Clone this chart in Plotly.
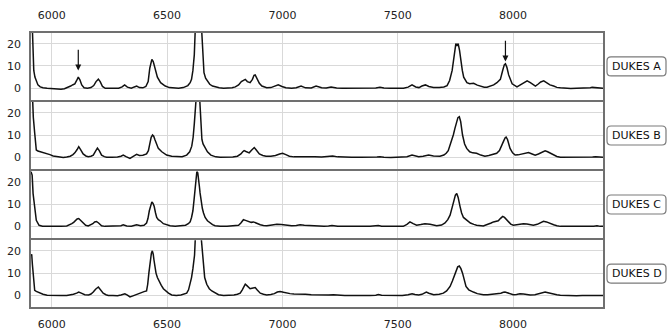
import plotly.graph_objects as go
from plotly.subplots import make_subplots

SAMPLES = ["DUKES A", "DUKES B", "DUKES C", "DUKES D"]

WN_A = [
    5910, 5914, 5918, 5922, 5927, 5933, 5940, 5950, 5962, 5980,
    6000, 6020, 6040, 6055, 6070, 6082, 6092, 6100, 6108, 6115,
    6122, 6130, 6140, 6155, 6170, 6182, 6192, 6202, 6210, 6220,
    6232, 6250, 6270, 6290, 6305, 6316, 6328, 6345, 6358, 6368,
    6380, 6395, 6408, 6418, 6425, 6430, 6434, 6440, 6447, 6458,
    6472, 6492, 6510, 6530, 6550, 6570, 6590, 6600, 6606, 6612,
    6618, 6622, 6630, 6636, 6642, 6650, 6655, 6660, 6667, 6675,
    6685, 6697, 6712, 6726, 6745, 6765, 6782, 6796, 6810, 6822,
    6832, 6839, 6848, 6860, 6870, 6877, 6882, 6890, 6900, 6911,
    6932, 6950, 6965, 6982, 6998, 7015, 7040, 7060, 7081, 7100,
    7125, 7146, 7170, 7190, 7211, 7235, 7260, 7290, 7320, 7350,
    7380, 7405, 7423, 7440, 7470, 7500, 7525, 7545, 7562, 7578,
    7592, 7605, 7620, 7635, 7655, 7680, 7700, 7714, 7725, 7736,
    7742, 7747, 7752, 7757, 7762, 7768, 7774, 7780, 7786, 7800,
    7812, 7829, 7845, 7861, 7875, 7887, 7902, 7916, 7930, 7945,
    7955, 7962, 7967, 7973, 7981, 7996, 8017, 8032, 8046, 8061,
    8075, 8087, 8097, 8108, 8120, 8133, 8145, 8160, 8176, 8190,
    8205, 8225, 8250, 8275, 8300, 8320, 8335, 8343, 8352, 8370,
    8390]
INT_A = [
    45, 30, 14, 8, 5, 3, 1.5, 0.6, 0.2, 0,
    -0.2, -0.3, -0.4, -0.2, 0.3, 1.0, 1.6, 2.0, 3.5, 5.0,
    3.8, 1.5, 0.2, 0, 0.3, 1.2, 3.0, 4.1, 3.0, 0.8,
    0, -0.1, 0, 0, 0.6, 1.5, 0.5, 0, 0.6, 1.0,
    0.3, 0.2, 0.8, 3, 9, 12.5, 13, 12, 9.5, 5,
    2.5, 1.0, 0.3, 0, 0, 0.3, 1.2, 2.5, 4, 8,
    15, 26, 45, 50, 45, 26, 13, 7, 4.5, 3,
    1.8, 1, 0.5, 0.2, 0, 0, 0.2, 0.6, 1.5, 3,
    3.8, 4, 3, 2.5, 4, 5.8, 6, 4.5, 2.2, 1,
    0.2, 0.3, 0.8, 1.5, 0.8, 0.2, 0, 0.2, 1.0, 0.2,
    0.1, 1.0, 0.2, 0.1, 0.6, 0.1, 0, 0, 0, -0.1,
    0, 0.1, 0.5, 0.1, 0, -0.1, 0, 0.5, 1.5, 0.6,
    0.3, 1.0, 1.5, 0.8, 0.3, 0.4, 0.6, 1.2, 3.5, 8,
    13, 17, 20, 19, 20, 17, 12, 8, 5, 2.5,
    2, 2.2, 1.4, 0.8, 0.5, 0.5, 1.0, 1.5, 2.5, 4,
    8, 10.5, 11, 9.5, 6, 2, 0.6, 1.5, 2.6, 3.3,
    2.5, 1.5, 1.0, 1.8, 2.8, 3.3, 2.5, 1.5, 1, 0.4,
    0.2, 0, -0.1, 0, 0, 0.1, 0.2, 0.4, 0.3, 0.1,
    0]

WN_B = [
    5910, 5915, 5920, 5926, 5933, 5940, 5948, 5962, 5977, 5992,
    6006, 6020, 6035, 6050, 6065, 6080, 6092, 6100, 6110, 6117,
    6125, 6136, 6148, 6158, 6170, 6180, 6190, 6198, 6206, 6216,
    6228, 6238, 6260, 6285, 6300, 6310, 6322, 6339, 6355, 6368,
    6380, 6395, 6411, 6419, 6425, 6431, 6437, 6442, 6447, 6455,
    6462, 6477, 6498, 6520, 6542, 6565, 6585, 6598, 6607, 6613,
    6618, 6622, 6627, 6634, 6641, 6646, 6651, 6656, 6665, 6675,
    6690, 6711, 6730, 6760, 6785, 6805, 6820, 6828, 6834, 6842,
    6856, 6866, 6873, 6878, 6885, 6900, 6915, 6929, 6950, 6970,
    6988, 7001, 7015, 7030, 7050, 7080, 7110, 7140, 7170, 7200,
    7218, 7240, 7270, 7300, 7340, 7380, 7410, 7423, 7440, 7470,
    7500, 7520, 7540, 7562, 7576, 7591, 7610, 7634, 7655, 7683,
    7700, 7710, 7719, 7728, 7735, 7741, 7748, 7755, 7761, 7767,
    7773, 7781, 7790, 7799, 7812, 7825, 7842, 7860, 7878, 7895,
    7910, 7929, 7941, 7951, 7960, 7966, 7970, 7976, 7987, 7998,
    8009, 8022, 8038, 8052, 8067, 8080, 8096, 8110, 8125, 8139,
    8150, 8162, 8176, 8190, 8205, 8230, 8260, 8290, 8320, 8345,
    8358, 8364, 8375, 8390]
INT_B = [
    45, 30, 18, 10.9, 3.3, 2.8, 2.6, 2.2, 1.8, 1.2,
    0.6, 0.3, 0, -0.1, 0.1, 0.5, 1.2, 2, 3.5, 4.8,
    3.5, 1.5, 0.6, 0.3, 0.5, 1, 2.8, 4.1, 3.0, 1,
    0.3, 0, 0, 0.1, 0.5, 1, 0.3, -0.5, 0.5, 1.3,
    0.8, 0.9, 1.5, 3, 6, 9, 10, 9.5, 8, 5.5,
    4, 2.5, 1, 0.5, 0.3, 0.3, 1, 2.5, 5, 9,
    15, 20, 27, 38, 27, 15, 8, 6, 4, 2.5,
    1, 0.2, 0, 0, 0.1, 0.5, 1.5, 2.5, 3, 2.6,
    2, 3.2, 4.2, 4.4, 3.5, 1.5, 0.8, 0.5, 0.5, 0.8,
    1.5, 1.8, 1.2, 0.5, 0.2, 0.3, 0.2, 0.2, 0.1, 0.3,
    0.6, 0.2, 0, 0, 0, -0.1, 0.1, 0.3, 0, -0.1,
    0, 0.1, 0.3, 1, 0.5, 0.3, 0.5, 1, 0.6, 0.5,
    1, 1.8, 3, 5.5, 8, 10, 13, 16, 17.8, 18.2,
    16, 10, 6, 4, 2.5, 2, 1.8, 1, 0.5, 0.8,
    1.4, 1.8, 3, 5, 7.5, 8.8, 9.1, 8, 4, 2,
    1, 1.1, 1.5, 1.9, 2.1, 1.6, 1, 1.5, 2.4, 2.9,
    2.5, 1.8, 1, 0.4, 0, 0, -0.1, 0, 0, 0.1,
    0.3, 0.3, 0, 0]

WN_C = [
    5910, 5915, 5919, 5926, 5933, 5945, 5960, 5980, 6000, 6020,
    6040, 6065, 6078, 6087, 6095, 6102, 6110, 6117, 6125, 6136,
    6147, 6158, 6170, 6178, 6186, 6194, 6203, 6216, 6230, 6255,
    6280, 6300, 6310, 6325, 6345, 6368, 6385, 6400, 6411, 6417,
    6423, 6429, 6434, 6439, 6444, 6450, 6455, 6462, 6470, 6484,
    6498, 6513, 6535, 6560, 6580, 6592, 6600, 6606, 6612, 6617,
    6622, 6626, 6629, 6633, 6636, 6640, 6643, 6648, 6653, 6658,
    6665, 6675, 6686, 6697, 6708, 6730, 6760, 6790, 6810, 6820,
    6831, 6840, 6853, 6865, 6875, 6888, 6904, 6918, 6932, 6955,
    6976, 6995, 7019, 7040, 7060, 7077, 7095, 7120, 7150, 7180,
    7200, 7215, 7240, 7270, 7300, 7340, 7380, 7405, 7416, 7430,
    7460, 7490, 7524, 7540, 7553, 7567, 7582, 7600, 7618, 7640,
    7669, 7690, 7705, 7717, 7727, 7736, 7744, 7750, 7756, 7762,
    7770, 7777, 7785, 7799, 7815, 7830, 7842, 7871, 7890, 7905,
    7915, 7926, 7936, 7946, 7955, 7963, 7972, 7980, 7990, 8001,
    8020, 8035, 8045, 8060, 8075, 8088, 8105, 8120, 8132, 8145,
    8160, 8176, 8190, 8205, 8235, 8265, 8300, 8330, 8350, 8364,
    8378, 8390]
INT_C = [
    24.5, 23, 14.7, 7.2, 2.7, 0.5, 0.1, 0, -0.1, -0.2,
    0, 0.2, 0.6, 1.2, 1.8, 2.7, 3.3, 3.5, 2.8, 1.5,
    0.5, 0.2, 0.6, 1.2, 2, 2.2, 1.5, 0.3, 0, 0,
    0, 0.3, 0.7, 0.2, 0.1, 0.7, 0.3, 0.5, 1.5, 3.5,
    7, 10, 11, 10.3, 9, 6, 4, 3, 2.5, 1.2,
    0.6, 0.3, 0, 0.1, 0.5, 1.2, 2, 4, 7, 12,
    18, 22.5, 24.5, 24, 22, 18, 15, 11, 8, 6,
    4, 2.5, 1.5, 0.8, 0.3, 0, 0, 0.1, 0.5, 1.5,
    3, 2.7, 2.2, 1.8, 2, 1.3, 0.7, 0.4, 0.3, 0.6,
    0.9, 0.8, 0.5, 0.3, 0.4, 0.7, 0.5, 0.3, 0.2, 0.1,
    0.2, 0.4, 0.1, 0, 0, 0, 0, 0.2, 0.4, 0.1,
    0, 0, 0, 0.9, 2, 1.2, 0.5, 0.8, 1.2, 0.9,
    0.3, 0.6, 1.5, 3, 5, 8.5, 12, 14, 14.8, 13,
    9, 6, 4, 2.7, 1.5, 0.9, 0.5, 0.2, 0.8, 1.5,
    2, 2.2, 2.5, 3.6, 4.5, 4, 3, 2, 1, 0.5,
    0.8, 1.1, 1.2, 1.1, 0.8, 0.5, 0.9, 1.8, 2.3, 2,
    1.3, 0.7, 0.3, 0, 0, -0.1, 0, 0, 0.1, 0.3,
    0, 0]

WN_D = [
    5910, 5913, 5916, 5919, 5923, 5926, 5933, 5940, 5950, 5962,
    5980, 6000, 6020, 6040, 6065, 6080, 6094, 6108, 6117, 6128,
    6143, 6160, 6170, 6180, 6190, 6202, 6212, 6223, 6235, 6245,
    6265, 6285, 6300, 6317, 6328, 6339, 6352, 6368, 6378, 6389,
    6400, 6411, 6416, 6421, 6425, 6428, 6432, 6436, 6440, 6443,
    6447, 6452, 6458, 6466, 6475, 6484, 6495, 6506, 6520, 6540,
    6560, 6575, 6585, 6593, 6600, 6606, 6612, 6616, 6619, 6623,
    6635, 6647, 6652, 6658, 6663, 6672, 6683, 6694, 6708, 6723,
    6745, 6770, 6790, 6805, 6817, 6826, 6833, 6839, 6845, 6853,
    6860, 6868, 6875, 6882, 6890, 6904, 6918, 6932, 6950, 6965,
    6978, 6990, 7005, 7020, 7033, 7050, 7077, 7100, 7125, 7149,
    7180, 7200, 7221, 7245, 7270, 7300, 7340, 7380, 7405, 7416,
    7430, 7460, 7490, 7520, 7545, 7562, 7575, 7591, 7605, 7616,
    7624, 7635, 7656, 7680, 7698, 7712, 7727, 7737, 7745, 7752,
    7760, 7767, 7774, 7781, 7788, 7796, 7808, 7818, 7828, 7845,
    7871, 7890, 7910, 7929, 7947, 7958, 7965, 7975, 7988, 8001,
    8015, 8030, 8045, 8060, 8074, 8095, 8110, 8125, 8139, 8152,
    8165, 8178, 8190, 8205, 8219, 8245, 8275, 8300, 8330, 8350,
    8364, 8378, 8390]
INT_D = [
    17.5, 18.5, 14, 9, 5, 2.3, 1.8, 1.5, 1, 0.5,
    0.1, 0, -0.2, 0, 0, 0.2, 0.5, 1, 1.5, 1,
    0.3, 0.2, 0.6, 1.5, 2.8, 3.8, 2.5, 1, 0.3, 0,
    0, -0.1, 0.2, 0.7, 0.1, -0.7, -0.2, 0.5, 1, 1.5,
    1.7, 2, 5, 10, 14, 17, 19, 20, 18.5, 16,
    13, 10, 8, 6, 4.5, 3, 2, 1, 0.2, 0,
    0.2, 0.5, 1, 2.5, 5, 8, 12, 15, 18, 27,
    45, 27, 20, 11, 8, 5, 3, 2, 1, 0.3,
    0, 0, 0.2, 0.5, 1, 2.5, 4.2, 5, 4.5, 3.5,
    3, 3.2, 3.5, 3.5, 2.5, 1, 0.5, 0.2, 0.4, 0.8,
    1.5, 1.8, 1.4, 1, 0.8, 0.6, 0.7, 0.5, 0.3, 0.2,
    0.2, 0.2, 0.3, 0, 0, 0, -0.1, 0, 0.1, 0.4,
    0.1, 0, 0, 0, 0.3, 0.7, 0.4, 0.2, 0.5, 1.2,
    1.5, 1, 0.3, 0.5, 1, 2, 4, 6.5, 9, 11,
    12.8, 13.2, 12, 10, 7, 4, 2.5, 1.8, 1.5, 0.8,
    0.3, 0.3, 0.5, 0.7, 1, 1.4, 1.5, 1.2, 0.7, 0.3,
    0.4, 0.7, 0.6, 0.3, 0.2, 0.3, 0.7, 1.2, 1.5, 1.2,
    0.8, 0.5, 0.3, 0.1, 0, 0, -0.1, 0, 0, 0.1,
    0.3, 0, 0]

X_TICKS = [6000, 6500, 7000, 7500, 8000]
Y_TICKS = [0, 10, 20]
X_RANGE = [5910, 8390]
Y_RANGE = [-5.2, 24.8]

# arrows marking peaks in the first spectrum
ARROW_WN = [6115, 7967]
ARROW_TAIL = [18.0, 22.0]
ARROW_TIP = [8.0, 12.0]

SERIES = [(WN_A, INT_A), (WN_B, INT_B), (WN_C, INT_C), (WN_D, INT_D)]
for wn, it in SERIES:
    if len(wn) != len(it):
        raise ValueError(f"length mismatch {len(wn)} vs {len(it)}")

W, H = 671, 332
ML, MR, MT, MB = 31, 68, 33, 25
PW, PH = W - ML - MR, H - MT - MB

fig = make_subplots(rows=4, cols=1, shared_xaxes=True, vertical_spacing=0.008)

for i, (wn, it) in enumerate(SERIES):
    fig.add_trace(
        go.Scatter(x=wn, y=it, mode="lines", name=SAMPLES[i],
                   line=dict(color="#111111", width=1.5), showlegend=False,
                   hoverinfo="skip"),
        row=i + 1, col=1)

tick_font = dict(family="DejaVu Sans", size=11, color="#222222")
fig.update_xaxes(range=X_RANGE, tickvals=X_TICKS, showgrid=True,
                 gridcolor="#d9d9d9", gridwidth=1, showline=True, mirror=True,
                 linecolor="#707070", linewidth=1.5, ticks="", zeroline=False,
                 tickfont=tick_font, automargin=False)
fig.update_xaxes(showticklabels=True, side="top", ticklabelstandoff=8, row=1, col=1)
fig.update_xaxes(showticklabels=True, side="bottom", ticklabelstandoff=6, row=4, col=1)
fig.update_yaxes(range=Y_RANGE, tickvals=Y_TICKS, showgrid=True,
                 gridcolor="#d9d9d9", gridwidth=1, showline=True, mirror=True,
                 linecolor="#707070", linewidth=1.5, ticks="", zeroline=False,
                 tickfont=tick_font, ticklabelstandoff=6, automargin=False)

# label boxes at the right of each panel
bx0 = (607 - ML) / PW
bx1 = (666 - ML) / PW
bh = 19 / PH
rx = 4 / PW
ry = 4 / PH
for i, name in enumerate(SAMPLES):
    yax = fig.layout["yaxis" if i == 0 else f"yaxis{i+1}"]
    d0, d1 = yax.domain
    yc = (d0 + d1) / 2
    y0, y1 = yc - bh / 2, yc + bh / 2
    path = (f"M {bx0+rx},{y0} L {bx1-rx},{y0} Q {bx1},{y0} {bx1},{y0+ry} "
            f"L {bx1},{y1-ry} Q {bx1},{y1} {bx1-rx},{y1} L {bx0+rx},{y1} "
            f"Q {bx0},{y1} {bx0},{y1-ry} L {bx0},{y0+ry} Q {bx0},{y0} {bx0+rx},{y0} Z")
    fig.add_shape(type="path", path=path, xref="paper", yref="paper",
                  line=dict(color="#7a7a7a", width=1.2), fillcolor="white")
    fig.add_annotation(x=(bx0 + bx1) / 2, y=yc, xref="paper", yref="paper",
                       text=name, showarrow=False, xanchor="center", yanchor="middle",
                       font=dict(family="DejaVu Sans", size=11, color="#111111"))

for wn, tail, tip in zip(ARROW_WN, ARROW_TAIL, ARROW_TIP):
    fig.add_annotation(x=wn, y=tip, ax=wn, ay=tail, xref="x", yref="y",
                       axref="x", ayref="y", text="", showarrow=True,
                       arrowhead=2, arrowsize=1, arrowwidth=1.2,
                       arrowcolor="#111111")

fig.update_layout(width=W, height=H, margin=dict(l=ML, r=MR, t=MT, b=MB, autoexpand=False),
                  paper_bgcolor="white", plot_bgcolor="white",
                  font=dict(family="DejaVu Sans", size=11, color="#222222"))

fig.write_html("out.html", config={"displayModeBar": False},
               post_script="document.body.style.margin='0';document.body.style.overflow='hidden';")
